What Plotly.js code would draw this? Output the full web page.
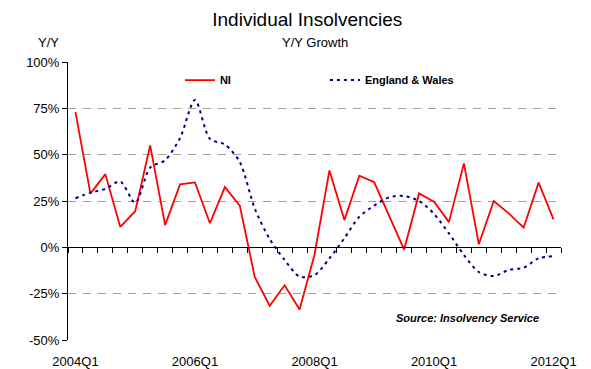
<!DOCTYPE html>
<html>
<head>
<meta charset="utf-8">
<script src="https://cdn.plot.ly/plotly-3.0.1.min.js"></script>
<style>html,body{margin:0;padding:0;background:#fff;}#chart{width:591px;height:369px;}</style>
</head>
<body>
<div id="chart"></div>
<script>
// Quarters (categories)
const quarters = [
  '2004Q1','2004Q2','2004Q3','2004Q4',
  '2005Q1','2005Q2','2005Q3','2005Q4',
  '2006Q1','2006Q2','2006Q3','2006Q4',
  '2007Q1','2007Q2','2007Q3','2007Q4',
  '2008Q1','2008Q2','2008Q3','2008Q4',
  '2009Q1','2009Q2','2009Q3','2009Q4',
  '2010Q1','2010Q2','2010Q3','2010Q4',
  '2011Q1','2011Q2','2011Q3','2011Q4',
  '2012Q1'
];
// Tick labels shown on the category axis
const tickLabels = ['2004Q1','2006Q1','2008Q1','2010Q1','2012Q1'];
// Y/Y growth, %
const niGrowth = [
  73, 29, 39.5, 11,
  19.5, 55, 12, 34,
  35, 13, 32.5, 22.5,
  -16, -31.5, -20.5, -33.5,
  -4, 41.5, 14.7, 38.7,
  35.1, 17, -1.2, 29.1,
  24.6, 13.6, 45.3, 1.7,
  25, 18.3, 10.6, 34.9,
  15.1
];
const ewGrowth = [
  26.5, 29.5, 31.5, 35.5,
  24, 43, 47, 59,
  79.5, 58.5, 55.5, 46,
  21, 4.5, -6.8, -15.8,
  -15, -6, 4.9, 16.5,
  22.5, 27, 27.7, 25,
  18, 7.5, -4.1, -13.3,
  -15.5, -12.2, -11, -5.9,
  -4.7
];
const seriesNames = ['NI', 'England & Wales'];
const yTicks = [-50, -25, 0, 25, 50, 75, 100];
const yTickLabels = ['-50%', '-25%', '0%', '25%', '50%', '75%', '100%'];

const FONT = 'Liberation Sans, Arial, sans-serif';

const traces = [
  {
    x: quarters, y: niGrowth, name: seriesNames[0], type: 'scatter', mode: 'lines',
    xaxis: 'x', yaxis: 'y',
    line: {color: '#ff0000', width: 1.8}
  },
  {
    x: quarters, y: ewGrowth, name: seriesNames[1], type: 'scatter', mode: 'lines',
    xaxis: 'x2', yaxis: 'y',
    line: {color: '#000080', width: 2, dash: '3px,4px', shape: 'spline', smoothing: 0.8}
  }
];

const yMin = -50, yMax = 100;
// plot area: top 62px, bottom 340px -> 278px tall
const pxToPaperY = (py) => (340 - py) / 278;
const pxToPaperX = (px) => (px - 68) / 493;

const layout = {
  width: 591, height: 369,
  margin: {l: 68, r: 30, t: 62, b: 29},
  paper_bgcolor: '#ffffff', plot_bgcolor: '#ffffff',
  font: {family: FONT, size: 13, color: '#000'},
  showlegend: true,
  title: {
    text: 'Individual Insolvencies',
    font: {family: FONT, size: 19, color: '#000'},
    xref: 'container', x: 0.52, xanchor: 'center',
    yref: 'container', y: 0.948, yanchor: 'middle'
  },
  legend: {
    orientation: 'h',
    x: 0.227, xanchor: 'left',
    y: 0.935, yanchor: 'middle',
    bgcolor: 'rgba(0,0,0,0)',
    font: {family: FONT, size: 11, color: '#000', weight: 'bold'},
    entrywidth: 100, entrywidthmode: 'pixels',
    itemwidth: 30
  },
  xaxis: {
    type: 'category',
    categoryorder: 'array', categoryarray: quarters,
    range: [-0.5, quarters.length - 0.5],
    tickmode: 'array', tickvals: tickLabels, ticktext: tickLabels,
    ticks: '', showline: false, showgrid: false, zeroline: false,
    ticklabelstandoff: 12,
    tickfont: {family: FONT, size: 13, color: '#000'},
    fixedrange: true
  },
  xaxis2: {
    type: 'category', overlaying: 'x',
    categoryorder: 'array', categoryarray: quarters,
    range: [-0.5, quarters.length - 0.5],
    anchor: 'free', position: (0 - yMin) / (yMax - yMin), side: 'bottom',
    tickmode: 'linear', tick0: 0, dtick: 1, tickson: 'boundaries',
    ticks: 'outside', ticklen: 5, tickcolor: '#000', tickwidth: 1,
    showticklabels: false, showline: true, linecolor: '#000', linewidth: 1,
    showgrid: false, zeroline: false, fixedrange: true
  },
  yaxis: {
    range: [yMin, yMax],
    tickmode: 'array', tickvals: yTicks, ticktext: yTickLabels,
    ticks: 'outside', ticklen: 5, tickcolor: '#000',
    showline: true, linecolor: '#000', linewidth: 1,
    showgrid: true, gridcolor: '#a0a0a0', gridwidth: 1, griddash: '8px,7px',
    zeroline: false,
    tickfont: {family: FONT, size: 13, color: '#000'},
    fixedrange: true
  },
  annotations: [
    {text: 'Y/Y Growth', xref: 'paper', x: 0.5, xanchor: 'center',
     yref: 'paper', y: pxToPaperY(43), yanchor: 'middle', showarrow: false,
     font: {family: FONT, size: 13, color: '#000'}},
    {text: 'Y/Y', xref: 'paper', x: pxToPaperX(48.5), xanchor: 'center',
     yref: 'paper', y: pxToPaperY(43), yanchor: 'middle', showarrow: false,
     font: {family: FONT, size: 13, color: '#000'}},
    {text: '<b><i>Source: Insolvency Service</i></b>', xref: 'paper', x: 0.96, xanchor: 'right',
     yref: 'paper', y: 0.08, yanchor: 'middle', showarrow: false,
     font: {family: FONT, size: 11, color: '#000'}}
  ]
};

Plotly.newPlot('chart', traces, layout, {displayModeBar: false, staticPlot: true});
</script>
</body>
</html>
